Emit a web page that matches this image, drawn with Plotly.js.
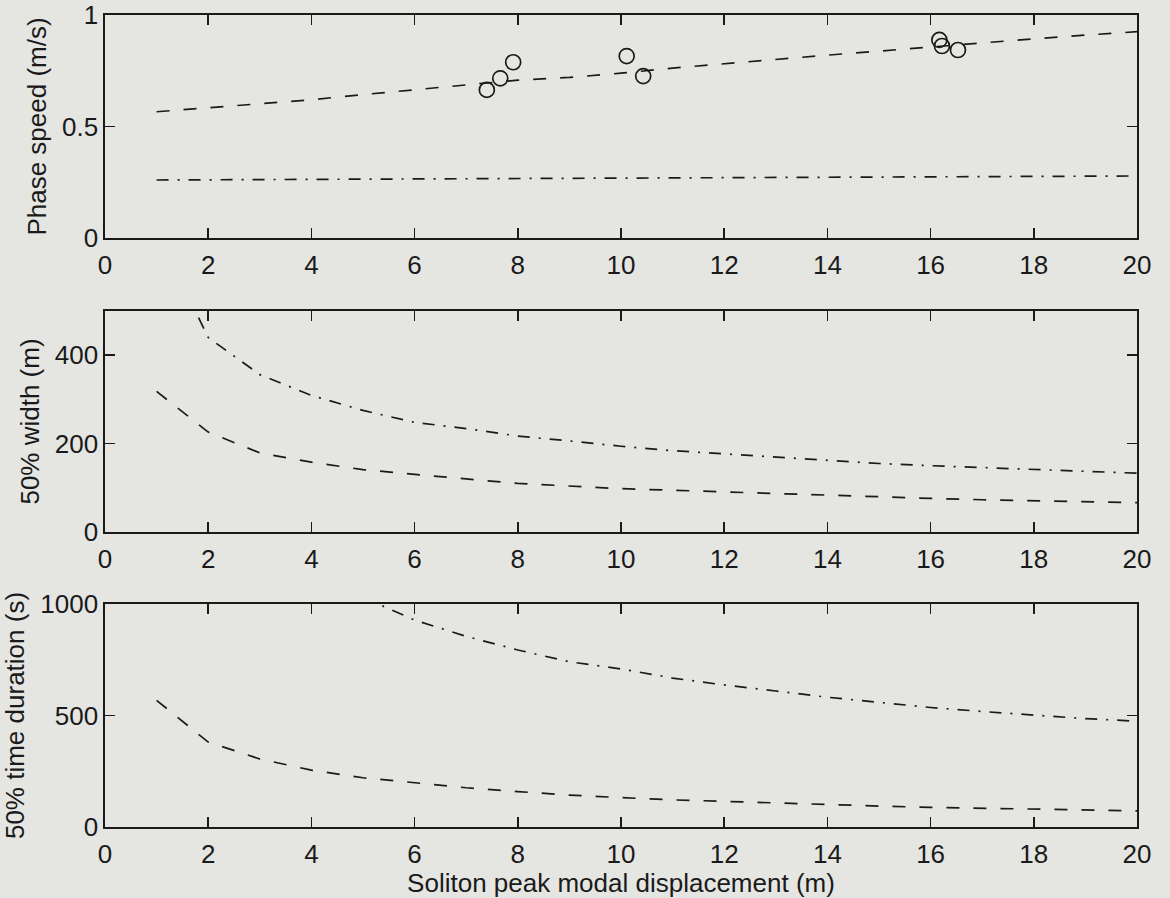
<!DOCTYPE html>
<html>
<head>
<meta charset="utf-8">
<script src="https://cdn.plot.ly/plotly-3.0.1.min.js"></script>
<style>
  html, body { margin: 0; padding: 0; background: #e5e6e2; }
  #chart { width: 1170px; height: 898px; }
</style>
</head>
<body>
<div id="chart"></div>
<script>
// ---------- data ----------
const modalDisp = [1,2,3,4,5,6,7,8,9,10,11,12,13,14,15,16,17,18,19,20];

// Panel 1: phase speed (m/s)
const phaseDashed  = [0.566,0.584,0.602,0.620,0.643,0.664,0.685,0.708,0.720,0.739,0.762,0.782,0.799,0.820,0.838,0.857,0.876,0.893,0.910,0.925];
const phaseDashDot = [0.260,0.261,0.262,0.263,0.264,0.265,0.266,0.267,0.268,0.269,0.270,0.270,0.271,0.272,0.273,0.274,0.275,0.276,0.277,0.278];
const obsDisp  = [7.40,7.66,7.91,10.11,10.43,16.17,16.22,16.53];
const obsSpeed = [0.664,0.716,0.788,0.816,0.726,0.888,0.861,0.843];

// Panel 2: 50% width (m)
const widthDashed  = [318,226,179,158,141,130,120,110,104,98,94.5,90,87,83.5,79,76,73,71,69,66.5];
const widthDashDot = [680,440,356,309,275,248,234,217,206,194,184,176.5,169,161,155,150,146,142,136.5,133];

// Panel 3: 50% time duration (s)
const durDashed     = [568,381,305,255,221,197,176,159,143,132,121.5,115,107,101,94,88,84,79,76,72.5];
const durDashDotX   = [5,6,7,8,9,10,11,12,13,14,15,16,17,18,19,20];
const durDashDot    = [1030,928,855,794,741,709,668,637,610,582,559,536,518,501,486,474.5];

// tick labels
const xTicks      = [0,2,4,6,8,10,12,14,16,18,20];
const xTickText   = ['0','2','4','6','8','10','12','14','16','18','20'];
const y1Ticks     = [0,0.5,1];
const y1TickText  = ['0','0.5','1'];
const y2Ticks     = [0,200,400];
const y2TickText  = ['0','200','400'];
const y3Ticks     = [0,500,1000];
const y3TickText  = ['0','500','1000'];

// ---------- styling ----------
const ink = '#1a1a1a';
const bg = '#e5e6e2';
const dashed = '13px,14px';
const dashDot = '12px,9px,2px,9px';
const lineW = 1.7;

function line(x, y, dash, xa, ya) {
  return { x: x, y: y, type: 'scatter', mode: 'lines', xaxis: xa, yaxis: ya,
           line: { color: ink, width: lineW, dash: dash }, showlegend: false, hoverinfo: 'skip' };
}

const traces = [
  line(modalDisp, phaseDashed, dashed, 'x', 'y'),
  line(modalDisp, phaseDashDot, dashDot, 'x', 'y'),
  { x: obsDisp, y: obsSpeed, type: 'scatter', mode: 'markers', xaxis: 'x', yaxis: 'y',
    marker: { symbol: 'circle-open', size: 15, color: ink, line: { width: 1.7, color: ink } },
    showlegend: false, hoverinfo: 'skip' },
  line(modalDisp, widthDashed, dashed, 'x2', 'y2'),
  line(modalDisp, widthDashDot, dashDot, 'x2', 'y2'),
  line(modalDisp, durDashed, dashed, 'x3', 'y3'),
  line(durDashDotX, durDashDot, dashDot, 'x3', 'y3')
];

const font = { family: 'Liberation Sans, Arial, Helvetica, sans-serif', size: 26, color: ink };

function xAxis(anchor, title) {
  const ax = {
    anchor: anchor, domain: [0, 1], range: [0, 20],
    tickmode: 'array', tickvals: xTicks, ticktext: xTickText,
    ticks: 'inside', ticklen: 10, tickwidth: 1.5, tickcolor: ink,
    showline: true, linecolor: ink, linewidth: 1.6, mirror: 'ticks',
    showgrid: false, zeroline: false, tickfont: font, fixedrange: true,
    ticklabelstandoff: 3
  };
  if (title) ax.title = { text: title, font: font, standoff: 6 };
  return ax;
}
function yAxis(anchor, domain, range, vals, text, title) {
  return {
    anchor: anchor, domain: domain, range: range,
    tickmode: 'array', tickvals: vals, ticktext: text,
    ticks: 'inside', ticklen: 10, tickwidth: 1.5, tickcolor: ink,
    showline: true, linecolor: ink, linewidth: 1.6, mirror: 'ticks',
    showgrid: false, zeroline: false, tickfont: font, fixedrange: true,
    title: { text: title, font: font, standoff: 8 }
  };
}

const layout = {
  width: 1170, height: 898,
  margin: { l: 105, r: 33, t: 15, b: 71 },
  paper_bgcolor: bg, plot_bgcolor: bg,
  font: font,
  showlegend: false,
  xaxis:  xAxis('y'),
  xaxis2: xAxis('y2'),
  xaxis3: xAxis('y3', 'Soliton peak modal displacement (m)'),
  yaxis:  yAxis('x',  [0.7254, 1],      [0, 1],    y1Ticks, y1TickText, 'Phase speed (m/s)'),
  yaxis2: yAxis('x2', [0.3633, 0.6355], [0, 500],  y2Ticks, y2TickText, '50% width (m)'),
  yaxis3: yAxis('x3', [0, 0.2746],      [0, 1000], y3Ticks, y3TickText, '50% time duration (s)')
};

Plotly.newPlot('chart', traces, layout, { staticPlot: true, displayModeBar: false });
</script>
</body>
</html>
